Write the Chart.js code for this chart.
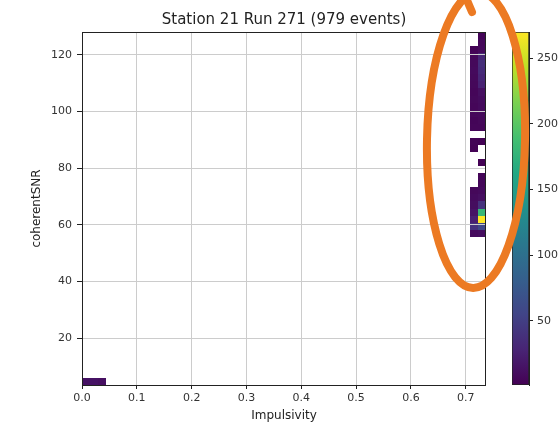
<!DOCTYPE html>
<html lang="en">
<head>
<meta charset="UTF-8">
<title>Station 21 Run 271</title>
<script src="https://cdn.jsdelivr.net/npm/chart.js"></script>
<style>
  body { margin: 0; background: #fff; overflow: hidden; }
  #wrap { position: relative; width: 558px; height: 423px; }
  #barCanvas { position: absolute; left: 500px; top: 0; }
  #mainCanvas { position: absolute; left: 0; top: 0; }
</style>
</head>
<body>
<div id="wrap">
  <canvas id="barCanvas" width="58" height="423"></canvas>
  <canvas id="mainCanvas" width="558" height="423"></canvas>
</div>
<script>
// histogram settings (50 x 50 bins over the data range)
const titleText = 'Station 21 Run 271 (979 events)';
const xLabel = 'Impulsivity';
const yLabel = 'coherentSNR';
const xRange = [0, 0.737];
const yRange = [3.5, 128];
const nBins = 50;
const xTicks = [0, 0.1, 0.2, 0.3, 0.4, 0.5, 0.6, 0.7];
const yTicks = [20, 40, 60, 80, 100, 120];
const cbTicks = [50, 100, 150, 200, 250];
const cbRange = [1, 270];

// filled bins: column index, row index, count
const cellCol = [0, 1, 2,
  48, 48, 48, 48, 48, 48, 48, 48, 48, 48, 48, 48, 48, 48, 48, 48, 48, 48, 48, 48, 48,
  49, 49, 49, 49, 49, 49, 49, 49, 49, 49, 49, 49, 49, 49, 49, 49, 49, 49, 49, 49, 49, 49, 49, 49, 49];
const cellRow = [0, 0, 0,
  47, 46, 45, 44, 43, 42, 41, 40, 39, 38, 37, 36, 34, 33, 27, 26, 25, 24, 23, 22, 21,
  49, 48, 47, 46, 45, 44, 43, 42, 41, 40, 39, 38, 37, 36, 34, 31, 29, 28, 27, 26, 25, 24, 23, 22, 21];
const cellCount = [14, 14, 12,
  3, 6, 7, 8, 7, 6, 5, 6, 5, 6, 4, 5, 3, 2, 6, 8, 10, 15, 25, 40, 8,
  4, 6, 7, 30, 36, 34, 30, 26, 12, 9, 8, 7, 6, 5, 2, 2, 4, 6, 8, 12, 40, 180, 270, 60, 10];

// viridis colour map
const viridis = ['#440154', '#482475', '#414487', '#355f8d', '#2a788e', '#21918c',
                 '#22a884', '#44bf70', '#7ad151', '#bddf26', '#fde725'];
function hexRgb(h) { return [1, 3, 5].map(i => parseInt(h.substr(i, 2), 16)); }
function cmap(t) {
  t = Math.min(1, Math.max(0, t));
  const p = t * (viridis.length - 1);
  const i = Math.min(viridis.length - 2, Math.floor(p));
  const f = p - i;
  const a = hexRgb(viridis[i]), b = hexRgb(viridis[i + 1]);
  const c = a.map((v, k) => Math.round(v + (b[k] - v) * f));
  return `rgb(${c[0]},${c[1]},${c[2]})`;
}

Chart.defaults.font.family = 'DejaVu Sans';
Chart.defaults.font.size = 11;
Chart.defaults.color = '#333';

const gridColor = '#cccccc';
const frameColor = '#222';

// draws the bins under the grid, then the frame and the orange marker on top
const heatPlugin = {
  id: 'heat',
  beforeDraw(chart) {
    const { ctx, scales: { x, y } } = chart;
    const dx = (xRange[1] - xRange[0]) / nBins;
    const dy = (yRange[1] - yRange[0]) / nBins;
    ctx.save();
    cellCount.forEach((c, i) => {
      const x0 = Math.round(x.getPixelForValue(xRange[0] + cellCol[i] * dx));
      const x1 = Math.round(x.getPixelForValue(xRange[0] + (cellCol[i] + 1) * dx));
      const y0 = Math.round(y.getPixelForValue(yRange[0] + (cellRow[i] + 1) * dy));
      const y1 = Math.round(y.getPixelForValue(yRange[0] + cellRow[i] * dy));
      ctx.fillStyle = cmap((c - cbRange[0]) / (cbRange[1] - cbRange[0]));
      ctx.fillRect(x0, y0, x1 - x0, y1 - y0);
    });
    ctx.restore();
  },
  afterDraw(chart) {
    const { ctx, chartArea: a } = chart;
    ctx.save();
    ctx.strokeStyle = frameColor;
    ctx.lineWidth = 1;
    ctx.strokeRect(a.left + 0.5, a.top + 0.5, a.right - a.left - 1, a.bottom - a.top);
    // hand drawn orange ellipse
    ctx.strokeStyle = '#ec7a23';
    ctx.lineWidth = 8;
    ctx.lineCap = 'round';
    ctx.beginPath();
    ctx.ellipse(476, 140, 49, 148, 0.02, 0, Math.PI * 2);
    ctx.stroke();
    ctx.beginPath();
    ctx.moveTo(466, -2);
    ctx.lineTo(472, 12);
    ctx.stroke();
    ctx.restore();
  }
};

new Chart(document.getElementById('mainCanvas'), {
  type: 'scatter',
  data: { datasets: [{ data: [] }] },
  options: {
    responsive: false,
    animation: false,
    layout: { padding: { left: 0, right: 72, top: 0, bottom: 0 } },
    plugins: {
      legend: { display: false },
      tooltip: { enabled: false },
      title: {
        display: true,
        text: titleText,
        fullSize: false,
        color: '#222',
        font: { size: 15, weight: 'normal' },
        padding: { top: 11, bottom: 3 }
      }
    },
    scales: {
      x: {
        type: 'linear',
        min: xRange[0],
        max: xRange[1],
        afterBuildTicks: ax => { ax.ticks = xTicks.map(v => ({ value: v })); },
        afterFit: ax => { ax.height = 38; },
        ticks: { padding: 3, maxRotation: 0, callback: v => v.toFixed(1) },
        grid: { color: gridColor, tickColor: frameColor, tickLength: 4 },
        border: { display: false },
        title: { display: true, text: xLabel, color: '#222', font: { size: 12 }, padding: { top: 0, bottom: 0 } }
      },
      y: {
        type: 'linear',
        min: yRange[0],
        max: yRange[1],
        afterBuildTicks: ax => { ax.ticks = yTicks.map(v => ({ value: v })); },
        afterFit: ax => { ax.width = 82; },
        ticks: { padding: 5 },
        grid: { color: gridColor, tickColor: frameColor, tickLength: 5 },
        border: { display: false },
        title: { display: true, text: yLabel, color: '#222', font: { size: 12 }, padding: { top: 30, bottom: 0 } }
      }
    }
  },
  plugins: [heatPlugin]
});

// colour bar, one floating bar filled with the colour map
new Chart(document.getElementById('barCanvas'), {
  type: 'bar',
  data: {
    labels: ['count'],
    datasets: [{
      data: [cbRange],
      barPercentage: 1,
      categoryPercentage: 1,
      borderColor: frameColor,
      borderWidth: 1,
      borderSkipped: false,
      backgroundColor: c => {
        const ch = c.chart;
        if (!ch.chartArea) return cmap(0.5);
        const ys = ch.scales.y;
        const g = ch.ctx.createLinearGradient(0, ys.getPixelForValue(cbRange[0]), 0, ys.getPixelForValue(cbRange[1]));
        viridis.forEach((col, i) => g.addColorStop(i / (viridis.length - 1), col));
        return g;
      }
    }]
  },
  options: {
    responsive: false,
    animation: false,
    layout: { padding: { left: 12, right: 0, top: 32, bottom: 38 } },
    plugins: { legend: { display: false }, tooltip: { enabled: false } },
    scales: {
      x: { display: false },
      y: {
        position: 'right',
        min: cbRange[0],
        max: cbRange[1],
        afterBuildTicks: ax => { ax.ticks = cbTicks.map(v => ({ value: v })); },
        afterFit: ax => { ax.width = 29; },
        ticks: { padding: 4 },
        grid: { drawOnChartArea: false, tickColor: frameColor, tickLength: 4 },
        border: { display: true, color: frameColor }
      }
    }
  }
});
</script>
</body>
</html>
